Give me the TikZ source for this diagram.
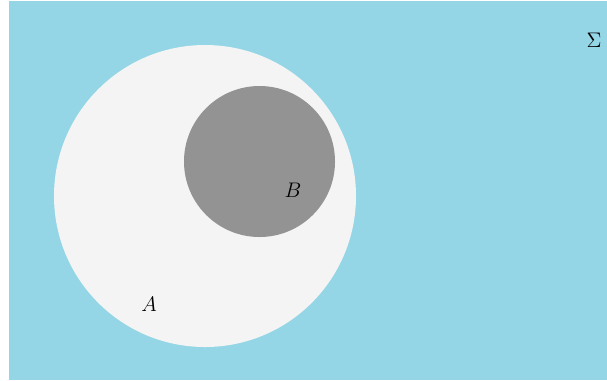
\documentclass[tikz,border=0pt]{standalone}
\usepackage{amsmath}
\definecolor{skyblue}{RGB}{148,214,230}
\definecolor{setwhite}{RGB}{244,244,244}
\definecolor{setgray}{RGB}{147,147,147}
\begin{document}
\begin{tikzpicture}[
    x=0.02cm, y=-0.02cm,
    set/.style={draw=none},
    lbl/.style={inner sep=0pt, font=\large}
  ]
    \useasboundingbox (0,0) rectangle (607,380);
    \fill[skyblue] (9,1) rectangle (607,380);
    \node[set, circle, fill=setwhite, minimum size=302*0.02cm, inner sep=0pt] (setA) at (205,196) {};
    \node[set, circle, fill=setgray, minimum size=151*0.02cm, inner sep=0pt] (setB) at (259.5,161.5) {};
    \node[lbl] (labA) at (149,304) {$A$};
    \node[lbl] (labB) at (293,190) {$B$};
    \node[lbl] (labS) at (594,40) {$\Sigma$};
  \end{tikzpicture}
\end{document}
